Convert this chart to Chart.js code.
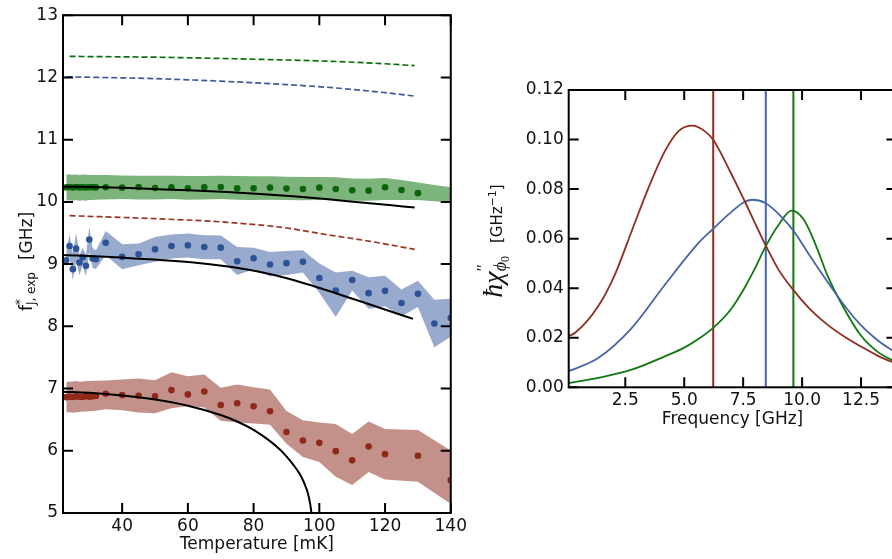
<!DOCTYPE html>
<html><head><meta charset="utf-8">
<script src="https://cdn.jsdelivr.net/npm/chart.js@4.4.1/dist/chart.umd.min.js"></script>
<style>
html,body{margin:0;padding:0;background:#fff;overflow:hidden;width:892px;height:559px;position:relative}
#left{position:absolute;left:0;top:0}
#right{position:absolute;left:470px;top:0}
</style></head><body>
<canvas id="left" width="470" height="559"></canvas>
<canvas id="right" width="450" height="559"></canvas>
<script>
// ---------------- data: left panel ----------------
const TEMPS = [23,24,25,26,27,28,29,30,31,32,35,40,45,50,55,60,65,70,75,80,85,90,95,100,105,110,115,120,125,130,135,140];

const GREEN_DOTS = [10.235,10.240,10.232,10.238,10.233,10.236,10.230,10.234,10.237,10.233,10.234,10.229,10.239,10.223,10.234,10.218,10.234,10.239,10.218,10.218,10.229,10.213,10.207,10.229,10.207,10.186,10.180,10.234,10.190,10.140,null,null];
const GREEN_HI = [10.44,10.44,10.435,10.44,10.43,10.44,10.435,10.43,10.43,10.43,10.43,10.425,10.42,10.42,10.42,10.415,10.415,10.42,10.415,10.41,10.41,10.405,10.40,10.40,10.395,10.375,10.37,10.385,10.35,10.31,10.27,10.234];
const GREEN_LO = [10.02,10.025,10.02,10.03,10.02,10.025,10.02,10.03,10.03,10.035,10.04,10.045,10.04,10.04,10.045,10.035,10.04,10.045,10.035,10.03,10.035,10.03,10.025,10.03,10.025,10.02,10.02,10.03,10.03,10.03,10.01,9.99];

const BLUE_DOTS = [9.063,9.290,8.919,9.248,9.025,9.110,8.973,9.396,9.089,9.078,9.343,9.116,9.158,9.237,9.290,9.301,9.275,9.264,9.047,9.094,8.994,9.015,9.036,8.776,8.575,8.745,8.533,8.570,8.374,8.522,8.045,8.135];
const BLUE_HI = [9.22,9.47,9.18,9.50,9.15,9.26,9.15,9.60,9.26,9.22,9.53,9.32,9.333,9.434,9.476,9.492,9.465,9.46,9.275,9.264,9.195,9.211,9.221,9.009,8.866,8.893,8.787,8.813,8.591,8.734,8.427,8.443];
const BLUE_LO = [8.93,9.12,8.74,9.05,8.82,8.98,8.80,9.20,8.94,8.92,9.142,8.919,8.983,9.036,9.089,9.105,9.078,9.078,8.824,8.919,8.803,8.824,8.866,8.538,8.151,8.575,8.283,8.321,8.162,8.31,7.663,7.833];

const RED_DOTS = [6.862,6.870,6.865,6.875,6.868,6.865,6.878,6.870,6.875,6.880,6.916,6.895,6.884,6.874,6.975,6.906,6.953,6.736,6.763,6.715,6.635,6.301,6.164,6.127,5.994,5.846,6.068,5.946,null,5.920,null,5.528];
const RED_HI = [7.11,7.11,7.115,7.12,7.11,7.115,7.12,7.12,7.125,7.125,7.128,7.144,7.16,7.134,7.261,7.197,7.224,7.012,7.065,7.022,6.985,6.641,6.492,6.455,6.429,6.27,6.471,6.349,null,6.333,null,6.005];
const RED_LO = [6.614,6.62,6.61,6.62,6.625,6.63,6.63,6.635,6.64,6.645,6.667,6.651,6.614,6.604,6.683,6.72,6.694,6.482,6.455,6.439,6.418,6.111,5.899,5.819,5.581,5.448,5.66,5.538,null,5.501,null,5.146];

// black model curves
const GREEN_FIT_T = [22,30,40,51,60,72,82,92,102,112,122,129];
const GREEN_FIT   = [10.245,10.238,10.225,10.204,10.186,10.158,10.128,10.090,10.045,9.995,9.945,9.91];
const BLUE_FIT_T  = [22,40,61,71,81,91,101,112,122,128.5];
const BLUE_FIT    = [9.148,9.105,9.030,8.970,8.885,8.760,8.600,8.410,8.235,8.120];
const RED_FIT_T   = [22,30,40,50,60,70,75,80,85,88,90,92,94,95.5,96.5,97.2,97.6,97.8];
const RED_FIT     = [6.95,6.933,6.89,6.825,6.725,6.575,6.47,6.335,6.155,6.02,5.91,5.78,5.63,5.47,5.32,5.15,5.0,4.88];

// dashed curves
const GREEN_DASH_T = [24,50,74,90,104,120,129];
const GREEN_DASH   = [12.338,12.325,12.30,12.28,12.258,12.22,12.189];
const BLUE_DASH_T  = [23,50,74,90,104,120,129];
const BLUE_DASH    = [12.01,11.98,11.93,11.885,11.835,11.755,11.70];
const RED_DASH_T   = [24,50,72,90,102,115,129];
const RED_DASH     = [9.778,9.73,9.672,9.58,9.476,9.37,9.237];

const X_TICKS_L = [40,60,80,100,120,140];
const Y_TICKS_L = [5,6,7,8,9,10,11,12,13];

// ---------------- data: right panel ----------------
const FREQ_RED  = [0.1,0.36,1.35,2.06,2.77,3.48,4.18,4.75,5.35,5.88,6.23,6.94,7.52,8.44,9.0,9.65,10.3,11.06,11.8,12.47,13.2,14.0];
const CHI_RED   = [0.0207,0.0219,0.0327,0.0455,0.0630,0.0804,0.0953,0.1033,0.1056,0.1033,0.0999,0.0872,0.0760,0.0576,0.0475,0.0390,0.0319,0.0254,0.0204,0.0166,0.0128,0.0094];
const FREQ_BLUE = [0.1,1.35,2.77,4.18,5.6,6.23,6.94,7.5,7.88,8.44,9.0,9.65,10.3,11.06,11.77,12.47,13.2,14.0];
const CHI_BLUE  = [0.0065,0.0118,0.0239,0.0414,0.0582,0.0640,0.0703,0.0745,0.0757,0.0744,0.0700,0.0630,0.0535,0.0428,0.0333,0.0253,0.0190,0.0138];
const FREQ_GREEN = [0.1,1.35,2.77,4.18,5.0,5.6,6.23,6.94,7.52,8.0,8.44,9.0,9.55,10.07,10.63,11.06,11.77,12.47,13.18,14.0];
const CHI_GREEN  = [0.0017,0.0038,0.0071,0.0125,0.0160,0.0195,0.0240,0.0310,0.0395,0.0480,0.0566,0.0655,0.0713,0.0677,0.0562,0.0455,0.0320,0.0212,0.0145,0.0100];
const F_LINES = [6.23, 8.46, 9.63];   // red, blue, green resonance markers

const X_TICKS_R = [2.5,5.0,7.5,10.0,12.5];
const Y_TICKS_R = [0,0.02,0.04,0.06,0.08,0.10,0.12];

const X_TITLE_L = 'Temperature [mK]';
const X_TITLE_R = 'Frequency [GHz]';

// ---------------- styling ----------------
const SANS = '"DejaVu Sans", "Noto Sans", sans-serif';
const SERIF = '"Liberation Serif", "DejaVu Serif", serif';
const TXT = '#111';
const C = {
  gDot:'#0a650a', gBand:'rgba(30,125,30,0.58)', gLine:'#117711', gDash:'#0b6f0b',
  bDot:'#2c5297', bBand:'rgba(50,85,155,0.50)', bLine:'#4565a8', bDash:'#3b5b9f',
  rDot:'#90281a', rBand:'rgba(140,45,30,0.52)', rLine:'#8f2d1e', rDash:'#9a3526'
};

function pts(xs, ys) {
  const out = [];
  xs.forEach((x, i) => { if (ys[i] !== null && ys[i] !== undefined) out.push({x: x, y: ys[i]}); });
  return out;
}
function fixedTicks(values) { return s => { s.ticks = values.map(v => ({value: v})); }; }

const framePlugin = {
  id: 'frame',
  afterDatasetsDraw(chart) {
    const {ctx, chartArea: a, scales} = chart;
    const L = 10;
    ctx.save();
    ctx.strokeStyle = '#000'; ctx.lineWidth = 2;
    ctx.beginPath();
    scales.x.ticks.forEach(t => {
      const p = scales.x.getPixelForValue(t.value);
      ctx.moveTo(p, a.bottom); ctx.lineTo(p, a.bottom - L);
      ctx.moveTo(p, a.top); ctx.lineTo(p, a.top + L);
    });
    scales.y.ticks.forEach(t => {
      const p = scales.y.getPixelForValue(t.value);
      ctx.moveTo(a.left, p); ctx.lineTo(a.left + L, p);
      ctx.moveTo(a.right, p); ctx.lineTo(a.right - L, p);
    });
    ctx.stroke();
    ctx.strokeRect(a.left, a.top, a.right - a.left, a.bottom - a.top);
    ctx.restore();
  }
};

// rotated y-axis label made of text runs (with super/subscripts)
function rotLabelPlugin(id, cx, cy, parts) {
  function seqWidth(ctx, seq) { let w = 0; seq.forEach(r => { ctx.font = r.f; w += ctx.measureText(r.t).width; }); return w; }
  return {
    id: id,
    afterDraw(chart) {
      const ctx = chart.ctx;
      ctx.save();
      ctx.fillStyle = TXT; ctx.textBaseline = 'alphabetic'; ctx.textAlign = 'left';
      let total = 0;
      const widths = parts.map(p => {
        let w;
        if (p.gap) w = p.gap;
        else if (p.stack) w = Math.max(...p.stack.map(s => seqWidth(ctx, s)));
        else w = seqWidth(ctx, [p]);
        total += w; return w;
      });
      ctx.translate(cx, cy); ctx.rotate(-Math.PI / 2);
      let u = -total / 2;
      parts.forEach((p, i) => {
        if (p.stack) {
          p.stack.forEach(seq => {
            let uu = u;
            seq.forEach(r => { ctx.font = r.f; ctx.fillText(r.t, uu, r.dy || 0); uu += ctx.measureText(r.t).width; });
          });
        } else if (!p.gap) {
          ctx.font = p.f; ctx.fillText(p.t, u, p.dy || 0);
        }
        u += widths[i];
      });
      ctx.restore();
    }
  };
}

const leftLabel = rotLabelPlugin('ylabL', 32, 261.5, [
  {t: 'f', f: '17px ' + SANS},
  {stack: [[{t: '*', f: '12px ' + SANS, dy: -8}], [{t: 'J, exp', f: '12px ' + SANS, dy: 3}]]},
  {gap: 12},
  {t: '[GHz]', f: '17px ' + SANS}
]);
const rightLabel = rotLabelPlugin('ylabR', 32, 241, [
  {t: 'ħχ', f: 'italic 28px ' + SERIF},
  {stack: [[{t: '′′', f: '17px ' + SERIF, dy: -14}], [{t: 'ϕ', f: 'italic 18px ' + SERIF, dy: 4}, {t: '0', f: '12px ' + SERIF, dy: 7}]]},
  {gap: 13},
  {t: '[GHz', f: '15px ' + SANS},
  {t: '−1', f: '11px ' + SANS, dy: -6},
  {t: ']', f: '15px ' + SANS}
]);

function band(hi, lo, color) {
  return [
    {data: pts(TEMPS, hi), fill: '+1', backgroundColor: color, borderColor: 'transparent', borderWidth: 1, pointRadius: 0, tension: 0, order: 20},
    {data: pts(TEMPS, lo), fill: false, borderColor: 'transparent', borderWidth: 1, pointRadius: 0, tension: 0, order: 21}
  ];
}
function dots(vals, color) {
  return {data: pts(TEMPS, vals), showLine: false, pointRadius: 3.3, pointBackgroundColor: color, pointBorderColor: color, pointBorderWidth: 0, order: 5};
}
function curve(xs, ys, color, width, dash, order) {
  return {data: pts(xs, ys), borderColor: color, borderWidth: width, borderDash: dash || [], pointRadius: 0, fill: false, cubicInterpolationMode: 'monotone', order: order};
}

const common = {
  responsive: false, animation: false, devicePixelRatio: 1, events: [],
  plugins: {legend: {display: false}, tooltip: {enabled: false}}
};

new Chart(document.getElementById('left'), {
  type: 'line',
  data: {datasets: [
    ...band(GREEN_HI, GREEN_LO, C.gBand),
    ...band(BLUE_HI, BLUE_LO, C.bBand),
    ...band(RED_HI, RED_LO, C.rBand),
    dots(GREEN_DOTS, C.gDot), dots(BLUE_DOTS, C.bDot), dots(RED_DOTS, C.rDot),
    curve(GREEN_FIT_T, GREEN_FIT, '#000', 2, null, 1),
    curve(BLUE_FIT_T, BLUE_FIT, '#000', 2, null, 1),
    curve(RED_FIT_T, RED_FIT, '#000', 2, null, 1),
    curve(GREEN_DASH_T, GREEN_DASH, C.gDash, 1.7, [6, 3], 2),
    curve(BLUE_DASH_T, BLUE_DASH, C.bDash, 1.7, [6, 3], 2),
    curve(RED_DASH_T, RED_DASH, C.rDash, 1.7, [6, 3], 2)
  ]},
  plugins: [framePlugin, leftLabel],
  options: Object.assign({}, common, {
    layout: {padding: {top: 10, right: 18, left: 0, bottom: 0}},
    scales: {
      x: {type: 'linear', min: 22, max: 140, afterBuildTicks: fixedTicks(X_TICKS_L), afterFit: s => { s.height = 46; },
          grid: {display: false, drawTicks: false}, border: {display: false},
          ticks: {font: {family: SANS, size: 17}, color: TXT, padding: 3, maxRotation: 0, autoSkip: false, callback: v => String(v)},
          title: {display: true, text: X_TITLE_L, font: {family: SANS, size: 17}, color: TXT, padding: {top: 0, bottom: 4}}},
      y: {type: 'linear', min: 5, max: 13, afterBuildTicks: fixedTicks(Y_TICKS_L), afterFit: s => { s.width = 63; },
          grid: {display: false, drawTicks: false}, border: {display: false},
          ticks: {font: {family: SANS, size: 17}, color: TXT, padding: 5, autoSkip: false, callback: v => String(v)}}
    }
  })
});

function vline(f, color) {
  return {data: [{x: f, y: 0}, {x: f, y: 0.12}], borderColor: color, borderWidth: 2, pointRadius: 0, fill: false, order: 3};
}

new Chart(document.getElementById('right'), {
  type: 'line',
  data: {datasets: [
    vline(F_LINES[0], C.rLine), vline(F_LINES[1], C.bLine), vline(F_LINES[2], C.gLine),
    curve(FREQ_RED, CHI_RED, C.rLine, 1.8, null, 1),
    curve(FREQ_BLUE, CHI_BLUE, C.bLine, 1.8, null, 1),
    curve(FREQ_GREEN, CHI_GREEN, C.gLine, 1.8, null, 1)
  ]},
  plugins: [framePlugin, rightLabel],
  options: Object.assign({}, common, {
    layout: {padding: {top: 90, right: 23.6, left: 0, bottom: 0}},
    scales: {
      x: {type: 'linear', min: 0.1, max: 14.0, afterBuildTicks: fixedTicks(X_TICKS_R), afterFit: s => { s.height = 171.7; },
          grid: {display: false, drawTicks: false}, border: {display: false},
          ticks: {font: {family: SANS, size: 17}, color: TXT, padding: 3, maxRotation: 0, autoSkip: false, callback: v => v.toFixed(1)},
          title: {display: true, text: X_TITLE_R, font: {family: SANS, size: 17}, color: TXT, padding: {top: 0, bottom: 128.8}}},
      y: {type: 'linear', min: 0, max: 0.12, afterBuildTicks: fixedTicks(Y_TICKS_R), afterFit: s => { s.width = 98.7; },
          grid: {display: false, drawTicks: false}, border: {display: false},
          ticks: {font: {family: SANS, size: 17}, color: TXT, padding: 5, autoSkip: false, callback: v => v.toFixed(2)}}
    }
  })
});
</script>
</body></html>
